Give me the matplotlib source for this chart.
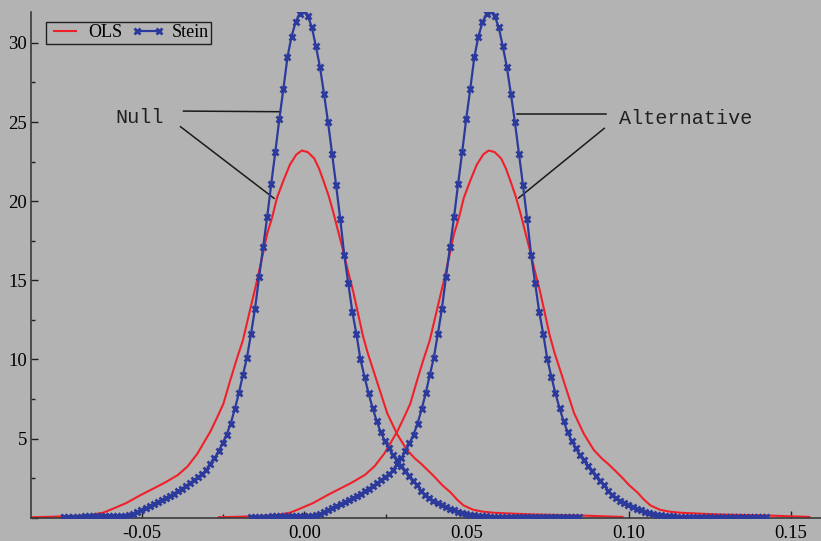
import matplotlib
matplotlib.use("Agg")
import matplotlib.pyplot as plt
import numpy as np

# density estimates (null hypothesis)
ols_x = [-0.0840, -0.0780, -0.0720, -0.0660, -0.0620, -0.0590, -0.0550, -0.0505,
         -0.0465, -0.0430, -0.0390, -0.0360, -0.0330, -0.0310, -0.0290, -0.0270,
         -0.0250, -0.0230, -0.0210, -0.0190, -0.0175, -0.0160, -0.0145, -0.0130,
         -0.0115, -0.0100, -0.0085, -0.0065, -0.0045, -0.0025, -0.0008, 0.0010,
         0.0030, 0.0045, 0.0060, 0.0075, 0.0090, 0.0105, 0.0120, 0.0135,
         0.0150, 0.0165, 0.0180, 0.0195, 0.0225, 0.0255, 0.0285, 0.0315,
         0.0340, 0.0360, 0.0380, 0.0400, 0.0425, 0.0450, 0.0470, 0.0490,
         0.0520, 0.0550, 0.0585, 0.0650, 0.0710, 0.0780, 0.0850, 0.0920, 0.0980]
ols_y = [0.03, 0.06, 0.10, 0.17, 0.32, 0.57, 0.92, 1.43,
         1.85, 2.22, 2.70, 3.25, 4.05, 4.75, 5.45, 6.30,
         7.20, 8.60, 9.95, 11.2, 12.5, 13.8, 15.1, 16.5,
         17.95, 18.95, 20.2, 21.3, 22.3, 22.95, 23.2, 23.1,
         22.7, 22.05, 21.2, 20.3, 19.2, 18.0, 16.8, 15.5,
         14.3, 12.9, 11.5, 10.4, 8.5, 6.6, 5.3, 4.3,
         3.75, 3.4, 3.0, 2.6, 2.05, 1.6, 1.15, 0.78,
         0.50, 0.38, 0.31, 0.25, 0.20, 0.17, 0.14, 0.09, 0.05]

# Stein estimate: 128 grid points from -0.074 to 0.08475
stein_x = np.linspace(-0.074, 0.08475, 128)
stein_y = [0.05, 0.05, 0.06, 0.06, 0.07, 0.08, 0.09, 0.10, 0.11, 0.12,
           0.12, 0.12, 0.11, 0.10, 0.11, 0.13, 0.19, 0.26, 0.36, 0.46,
           0.59, 0.72, 0.86, 0.98, 1.10, 1.22, 1.36, 1.52, 1.68, 1.84,
           2.01, 2.18, 2.36, 2.56, 2.76, 3.02, 3.42, 3.75, 4.20, 4.70,
           5.25, 5.95, 6.85, 7.85, 9.0, 10.1, 11.6, 13.2, 15.2, 17.1,
           19.0, 21.1, 23.1, 25.2, 27.1, 29.1, 30.4, 31.3, 31.85, 32.0,
           31.7, 31.0, 29.8, 28.5, 26.8, 25.0, 23.0, 21.0, 18.9, 16.6,
           14.8, 13.0, 11.6, 10.0, 8.9, 7.85, 6.93, 6.1, 5.41, 4.85,
           4.38, 3.98, 3.62, 3.28, 2.96, 2.66, 2.35, 2.08, 1.70, 1.45,
           1.24, 1.05, 0.92, 0.80, 0.68, 0.58, 0.48, 0.39, 0.31, 0.24,
           0.18, 0.14, 0.11, 0.09, 0.08, 0.07, 0.07, 0.06, 0.06, 0.07,
           0.07, 0.06, 0.06, 0.06, 0.07, 0.07, 0.06, 0.05, 0.05, 0.06,
           0.06, 0.05, 0.05, 0.05, 0.05, 0.05, 0.04, 0.04]

# alternative distribution: same shape, shifted
alt_shift = 0.0576

xticks = [-0.05, 0.00, 0.05, 0.10, 0.15]
xtick_labels = ['-0.05', '0.00', '0.05', '0.10', '0.15']
yticks = [0, 5, 10, 15, 20, 25, 30]
ytick_labels = ['', '5', '10', '15', '20', '25', '30']

bg = '#b3b3b3'
red = '#f0202a'
blue = '#2c3a9c'

fig = plt.figure(figsize=(8.21, 5.41), dpi=100, facecolor=bg)
ax = fig.add_axes([31 / 821, 23.3 / 541, 790 / 821, 505.7 / 541])
ax.set_facecolor(bg)

ols_x = np.array(ols_x)
ax.plot(ols_x, ols_y, color=red, lw=1.5, label='OLS', zorder=2)
ax.plot(ols_x + alt_shift, ols_y, color=red, lw=1.5, zorder=2)
ax.plot(stein_x, stein_y, color=blue, lw=1.6, marker='x', ms=4.5, mew=2.0,
        label='Stein', zorder=3)
ax.plot(stein_x + alt_shift, stein_y, color=blue, lw=1.6, marker='x', ms=4.5,
        mew=2.0, zorder=3)

ax.set_xlim(-0.0843, 0.1592)
ax.set_ylim(0, 31.95)

for s in ['top', 'right']:
    ax.spines[s].set_visible(False)
for s in ['left', 'bottom']:
    ax.spines[s].set_color('#3a3a3a')
    ax.spines[s].set_linewidth(1.2)

ax.set_xticks(xticks, labels=xtick_labels)
ax.set_yticks(yticks, labels=ytick_labels)
ax.set_xticks(np.arange(-0.075, 0.16, 0.025), minor=True)
ax.set_yticks(np.arange(0, 32, 2.5), minor=True)
ax.tick_params(which='both', direction='in', color='#202020', width=1)
ax.tick_params(which='major', length=5)
ax.tick_params(which='minor', length=3)
ax.tick_params(axis='x', pad=5)
ax.tick_params(axis='y', pad=3)
for lab in ax.get_xticklabels() + ax.get_yticklabels():
    lab.set_fontfamily('Liberation Serif')
    lab.set_fontsize(13.5)

# annotation lines
mono = 'Liberation Mono'
ax.text(-0.0582, 25.26, 'Null', fontsize=14.5, family=mono, color='#202020',
        ha='left', va='center')
ax.plot([-0.0373, -0.0074], [25.69, 25.65], color='#1a1a1a', lw=1.1)
ax.plot([-0.0382, -0.0094], [24.70, 20.18], color='#1a1a1a', lw=1.1)
ax.text(0.0970, 25.25, 'Alternative', fontsize=14.5, family=mono,
        color='#202020', ha='left', va='center')
ax.plot([0.0655, 0.0929], [25.5, 25.5], color='#1a1a1a', lw=1.1)
ax.plot([0.0924, 0.0660], [24.6, 20.2], color='#1a1a1a', lw=1.1)

leg = ax.legend(loc='upper left', bbox_to_anchor=(0.019, 0.981), borderaxespad=0,
                ncol=2, frameon=True, fancybox=False, numpoints=2,
                handlelength=1.8, handletextpad=0.4, columnspacing=0.5,
                borderpad=0.15, prop={'family': 'Liberation Serif', 'size': 13})
leg.get_frame().set_facecolor(bg)
leg.get_frame().set_edgecolor('#202020')
leg.get_frame().set_linewidth(1.0)
leg.get_frame().set_alpha(1)

fig.savefig('out.png', dpi=100, facecolor=bg)
